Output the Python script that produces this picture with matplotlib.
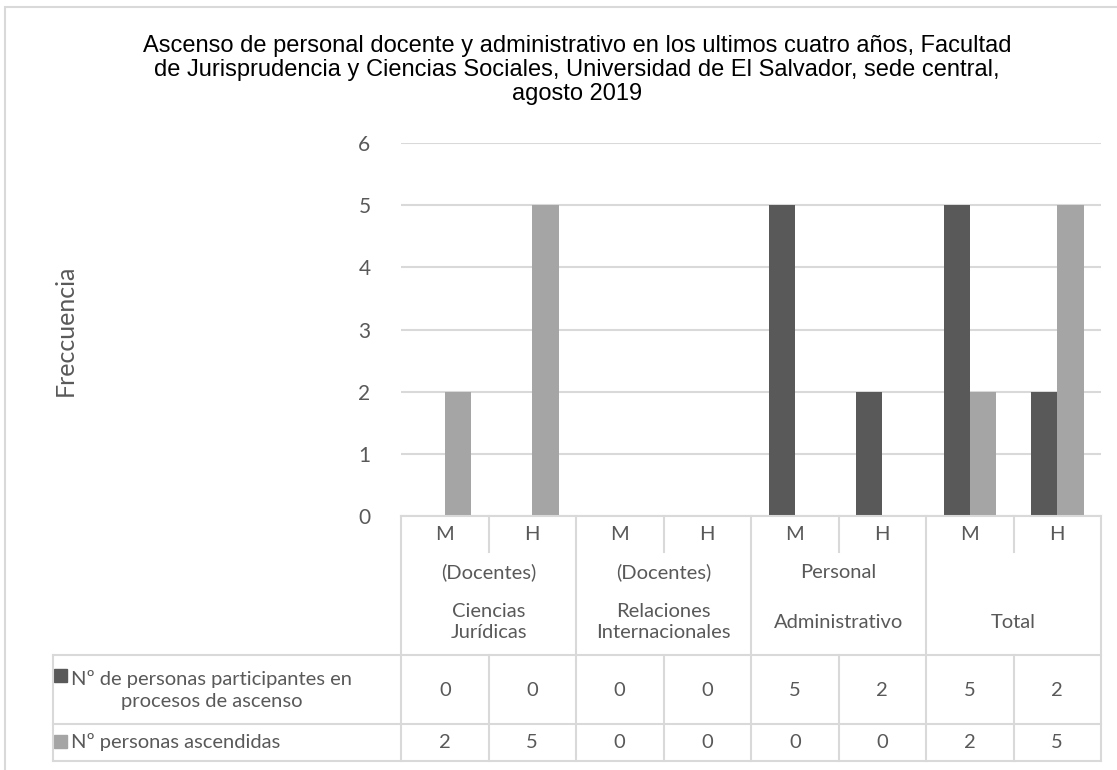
import numpy as np
import matplotlib.pyplot as plt
from matplotlib.lines import Line2D
from matplotlib.patches import Rectangle
from matplotlib.transforms import blended_transform_factory

# Datos
sexo = ["M", "H", "M", "H", "M", "H", "M", "H"]
grupos = [("(Docentes)", "Ciencias\nJurídicas"),
          ("(Docentes)", "Relaciones\nInternacionales"),
          ("Personal", "Administrativo"),
          ("", "Total")]
participantes = [0, 0, 0, 0, 5, 2, 5, 2]
ascendidas = [2, 5, 0, 0, 0, 0, 2, 5]
serie1 = "Nº de personas participantes en\nprocesos de ascenso"
serie2 = "Nº personas ascendidas"
titulo = ("Ascenso de personal docente y administrativo en los ultimos cuatro años, Facultad\n"
          "de Jurisprudencia y Ciencias Sociales, Universidad de El Salvador, sede central,\n"
          "agosto 2019")

OSCURO = "#595959"
CLARO = "#A5A5A5"
REJILLA = "#D9D9D9"
TEXTO = "#595959"
FUENTE = "Lato"
FS = 14.5

W, H = 1117, 770
fig = plt.figure(figsize=(W / 100, H / 100), dpi=100)

def fx(p):
    return p / W

def fy(p):
    return 1 - p / H

# area de trazado
x0, x1, ytop, ybot = 401, 1101, 143, 516
ax = fig.add_axes([fx(x0), fy(ybot), fx(x1 - x0), (ybot - ytop) / H])
x = np.arange(len(sexo))
ancho = 0.3
ax.bar(x - ancho / 2, participantes, ancho, color=OSCURO, zorder=3)
ax.bar(x + ancho / 2, ascendidas, ancho, color=CLARO, zorder=3)
ax.set_xlim(-0.5, len(sexo) - 0.5)
ax.set_ylim(0, 6)
ax.set_yticks(range(7))
ax.yaxis.grid(True, color=REJILLA, linewidth=1.5, zorder=0)
ax.set_xticks([])
ax.tick_params(axis="y", length=0, pad=22, labelsize=15, labelcolor=TEXTO)
for lab in ax.get_yticklabels():
    lab.set_fontfamily(FUENTE)
for s in ax.spines.values():
    s.set_visible(False)

fig.text(fx(65), fy(330), "Freccuencia", rotation=90, ha="center", va="center",
         fontsize=18, color=TEXTO, family=FUENTE)

fig.text(fx(577), fy(70), titulo, ha="center", va="center", fontsize=17,
         color="black", family="Liberation Sans", linespacing=1.1)

# tabla de datos
tr = blended_transform_factory(ax.transData, fig.transFigure)
bordes = np.arange(len(sexo) + 1) - 0.5
lw = 1.5

def hline(xa, xb, yp):
    fig.add_artist(Line2D([xa, xb], [fy(yp), fy(yp)], color=REJILLA, lw=lw, transform=tr))

def vline(xd, ya, yb):
    fig.add_artist(Line2D([xd, xd], [fy(ya), fy(yb)], color=REJILLA, lw=lw, transform=tr))

izq = ax.transData.inverted().transform((53, 0))[0]
hline(bordes[0], bordes[-1], 516)
for yp in (655, 724, 761):
    hline(izq, bordes[-1], yp)
vline(izq, 655, 761)
for i, b in enumerate(bordes):
    if i % 2 == 0:
        vline(b, 516, 761)
    else:
        vline(b, 516, 552)
        vline(b, 655, 761)

for i, s in enumerate(sexo):
    fig.text(i, fy(534), s, transform=tr, ha="center", va="center",
             fontsize=FS, color=TEXTO, family=FUENTE)
    fig.text(i, fy(690), str(participantes[i]), transform=tr, ha="center", va="center",
             fontsize=FS, color=TEXTO, family=FUENTE)
    fig.text(i, fy(742), str(ascendidas[i]), transform=tr, ha="center", va="center",
             fontsize=FS, color=TEXTO, family=FUENTE)

for g, (sup, inf) in enumerate(grupos):
    cx = 2 * g + 0.5
    if "\n" in inf:
        fig.text(cx, fy(572), sup, transform=tr, ha="center", va="center",
                 fontsize=FS, color=TEXTO, family=FUENTE)
        fig.text(cx, fy(622), inf, transform=tr, ha="center", va="center",
                 fontsize=FS, color=TEXTO, family=FUENTE, linespacing=1.35)
    else:
        if sup:
            fig.text(cx, fy(572), sup, transform=tr, ha="center", va="center",
                     fontsize=FS, color=TEXTO, family=FUENTE)
        fig.text(cx, fy(623), inf, transform=tr, ha="center", va="center",
                 fontsize=FS, color=TEXTO, family=FUENTE)

# leyenda en la tabla
fig.add_artist(Rectangle((fx(54), fy(682)), fx(13), 13 / H, color=OSCURO))
fig.add_artist(Rectangle((fx(54), fy(748)), fx(13), 13 / H, color=CLARO))
fig.text(fx(71), fy(690), serie1, ha="left", va="center", multialignment="center",
         fontsize=FS, color=TEXTO, family=FUENTE, linespacing=1.35)
fig.text(fx(71), fy(742), serie2, ha="left", va="center",
         fontsize=FS, color=TEXTO, family=FUENTE)

# marco del grafico
fig.add_artist(Rectangle((fx(5), fy(1100)), fx(1200), 1093 / H, fill=False,
                         edgecolor=REJILLA, lw=1.5))

fig.savefig("out.png", dpi=100)
